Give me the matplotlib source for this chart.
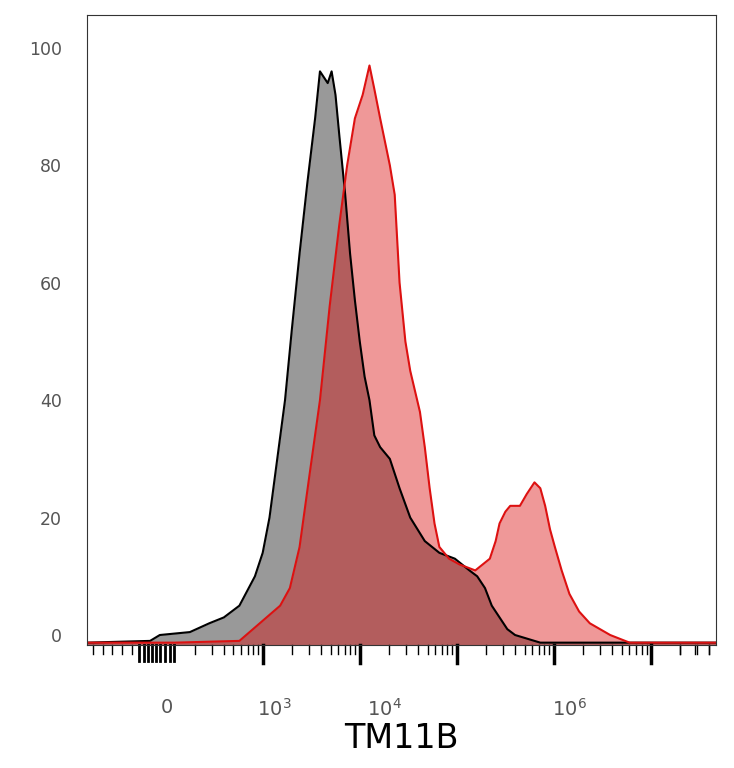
import numpy as np
import matplotlib
matplotlib.use("Agg")
import matplotlib.pyplot as plt

# x in decades (log10 of intensity, display scale), y in % of max
gray_x = [1.19, 1.84, 1.94, 2.25, 2.45, 2.60, 2.76, 2.92, 3.00, 3.07, 3.15, 3.23, 3.30, 3.38, 3.46, 3.54, 3.59, 3.63, 3.67, 3.71, 3.75, 3.79,
          3.85, 3.90, 3.95, 4.00, 4.05, 4.10, 4.15, 4.21, 4.31, 4.41, 4.52, 4.67, 4.82, 4.98, 5.13, 5.21, 5.29, 5.36, 5.44, 5.52, 5.60, 5.86, 7.67]
gray_y = [-1.3, -1.0, 0.0, 0.5, 2, 3, 5, 10, 14, 20, 30, 40, 52, 65, 77, 88, 96, 95, 94, 96, 92, 85,
          75, 65, 57, 50, 44, 40, 34, 32, 30, 25, 20, 16, 14, 13, 11, 10, 8, 5, 3, 1, 0, -1.3, -1.3]
red_x = [1.19, 2.09, 2.76, 2.97, 3.18, 3.28, 3.38, 3.48, 3.59, 3.69, 3.79, 3.87, 3.95, 4.03, 4.10, 4.15, 4.21, 4.31, 4.36, 4.41, 4.47, 4.52, 4.62,
         4.67, 4.72, 4.77, 4.82, 4.92, 5.03, 5.19, 5.34, 5.40, 5.44, 5.50, 5.55, 5.65, 5.72, 5.80, 5.86, 5.91, 5.96, 6.01, 6.08, 6.16, 6.26, 6.37, 6.58, 6.78, 7.67]
red_y = [-1.3, -1.3, -1.0, 2, 5, 8, 15, 27, 40, 56, 70, 80, 88, 92, 97, 93, 88, 80, 75, 60, 50, 45, 38,
         32, 25, 19, 15, 13, 12, 11, 13, 16, 19, 21, 22, 22, 24, 26, 25, 22, 18, 15, 11, 7, 4, 2, 0, -1.3, -1.3]
tick_labels = ["0", "$10^3$", "$10^4$", "$10^6$"]
tick_label_pos = [2.01, 3.12, 4.25, 6.16]

fig = plt.figure(figsize=(7.34, 7.68), dpi=100)
ax = fig.add_axes([87/734, 123/768, 629/734, 630/768])
ax.set_xlim(1.19, 7.67)
ax.set_ylim(-1.7, 105.6)

ax.fill_between(gray_x, -1.7, gray_y, color="#999999", lw=0)
ax.fill_between(red_x, -1.7, red_y, color=(0.85, 0.04, 0.04), alpha=0.42, lw=0)
ax.plot(gray_x, gray_y, color="black", lw=1.5)
ax.plot(red_x, red_y, color="#dd1111", lw=1.5)

ax.set_yticks([0, 20, 40, 60, 80, 100])
ax.tick_params(axis="y", length=0, labelcolor="#555555", labelsize=12.5, pad=18)
ax.set_xticks(tick_label_pos)
ax.set_xticklabels(tick_labels, color="#555555", fontsize=14)
ax.tick_params(axis="x", length=0, pad=38)

# manual tick marks below axis
trans = ax.get_xaxis_transform()
for d in [3, 4, 5, 6, 7]:
    ax.plot([d, d], [0, -0.028], transform=trans, color="black", lw=2.5, clip_on=False)
for d in [2, 3, 4, 5, 6, 7]:
    for m in range(2, 10):
        x = d + np.log10(m)
        if 2.15 < x < 7.65:
            ax.plot([x, x], [0, -0.015], transform=trans, color="black", lw=1, clip_on=False)
for x in [1.73, 1.78, 1.82, 1.86, 1.9, 1.94, 1.99, 2.05, 2.09]:
    ax.plot([x, x], [0, -0.025], transform=trans, color="black", lw=2, clip_on=False)
for x in [1.25, 1.35, 1.45, 1.55, 1.65, 7.3, 7.45, 7.6]:
    ax.plot([x, x], [0, -0.015], transform=trans, color="black", lw=1, clip_on=False)

for s in ax.spines.values():
    s.set_color("#333333")
ax.set_xlabel("TM11B", fontsize=24, labelpad=2)
fig.savefig("out.png", dpi=100)
